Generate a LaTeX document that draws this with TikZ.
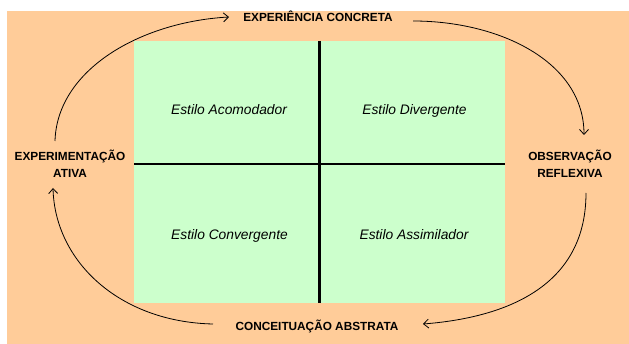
\documentclass[tikz,border=0pt]{standalone}
\usepackage{fontspec}
\setmainfont{Liberation Sans}
\usetikzlibrary{arrows.meta}
\definecolor{peach}{HTML}{FFCC99}
\definecolor{mint}{HTML}{CCFFCC}
\begin{document}
\begin{tikzpicture}[x=1pt,y=-1pt,
  stage/.style={font=\fontsize{11.8}{16.5}\selectfont\bfseries, align=center, inner sep=0pt},
  quad/.style={font=\fontsize{13.8}{16}\selectfont\itshape, inner sep=0pt, anchor=base},
  cycle/.style={draw=black, line width=0.8pt, -{Straight Barb[length=5pt,width=9pt]}},
  divider/.style={draw=black, line width=2.6pt}]
\useasboundingbox (0,0) rectangle (629,344);
\fill[white] (0,0) rectangle (629,344);
\fill[peach] (7,11) rectangle (629,344);
\fill[mint] (134,41) rectangle (505,303);
\coordinate (vt) at (319.5,41);
\coordinate (vb) at (319.5,303);
\coordinate (hl) at (134,164);
\coordinate (hr) at (505,164);
\draw[divider] (vt) -- (vb);
\draw[divider] (hl) -- (hr);
\node[quad] (acom) at (229,115) {Estilo Acomodador};
\node[quad] (div) at (414.5,115) {Estilo Divergente};
\node[quad] (conv) at (229.5,240) {Estilo Convergente};
\node[quad] (assim) at (414,240) {Estilo Assimilador};
\node[stage, anchor=base] (ec) at (318,21.5) {EXPERIÊNCIA CONCRETA};
\node[stage, anchor=base] (ca) at (317,330.5) {CONCEITUAÇÃO ABSTRATA};
\node[stage] (ea) at (70,164) {EXPERIMENTAÇÃO\\ATIVA};
\node[stage] (or) at (570,164) {OBSERVAÇÃO\\REFLEXIVA};
\coordinate (a1s) at (55,141);
\coordinate (a1e) at (229,17);
\coordinate (a2s) at (413,21);
\coordinate (a2e) at (584,135);
\coordinate (a3s) at (586,193);
\coordinate (a3e) at (423,324);
\coordinate (a4s) at (213,324);
\coordinate (a4e) at (53,188);
\draw[cycle] (a1s) .. controls (57,70) and (140,22) .. (a1e);
\draw[cycle] (a2s) .. controls (500,21) and (584,62) .. (a2e);
\draw[cycle] (a3s) .. controls (586,290) and (500,318) .. (a3e);
\draw[cycle] (a4s) .. controls (120,322) and (55,262) .. (a4e);
\end{tikzpicture}
\end{document}
